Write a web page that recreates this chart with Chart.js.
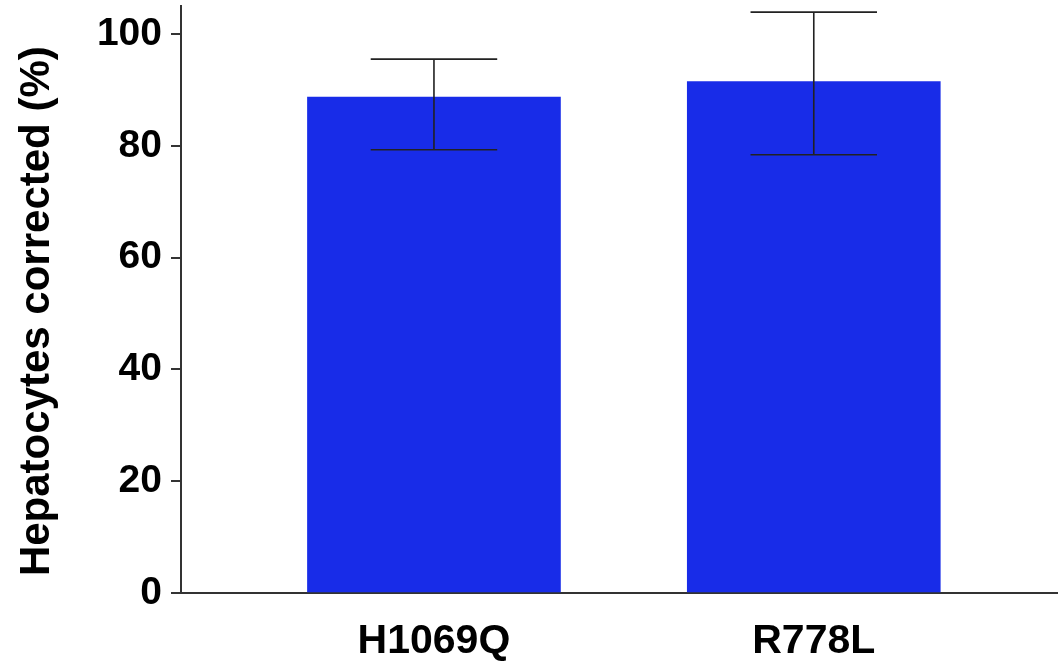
<!DOCTYPE html>
<html>
<head>
<meta charset="utf-8">
<script src="https://cdn.jsdelivr.net/npm/chart.js@4/dist/chart.umd.min.js"></script>
<style>
  body { margin: 0; background: #fff; }
  #wrap { width: 1058px; height: 664px; }
</style>
</head>
<body>
<div id="wrap"><canvas id="myChart" width="1058" height="664"></canvas></div>
<script>
// values
let groupNames = ["H1069Q", "R778L"];
let meanValues = [88.7, 91.5];
let errLow = [79.3, 78.4];
let errHigh = [95.5, 103.9];
let yTicks = [0, 20, 40, 60, 80, 100];

let barColor = "#182ce8";
let inkColor = "#222";

// bars sit on a linear x axis at 1, 2, ...
let barPoints = [];
for (let i = 0; i < groupNames.length; i++) {
    barPoints.push({ x: i + 1, y: meanValues[i] });
}

// error bars drawn on top of each bar, from the y scale
const errorBars = {
    id: "errorBars",
    afterDatasetsDraw(chart) {
        let ctx = chart.ctx;
        let yScale = chart.scales.y;
        let bars = chart.getDatasetMeta(0).data;
        ctx.save();
        ctx.strokeStyle = inkColor;
        ctx.lineWidth = 1.6;
        bars.forEach((bar, i) => {
            let x = bar.x;
            let half = bar.width / 4;
            let top = yScale.getPixelForValue(errHigh[i]);
            let bottom = yScale.getPixelForValue(errLow[i]);
            ctx.beginPath();
            ctx.moveTo(x, top);
            ctx.lineTo(x, bottom);
            ctx.moveTo(x - half, top);
            ctx.lineTo(x + half, top);
            ctx.moveTo(x - half, bottom);
            ctx.lineTo(x + half, bottom);
            ctx.stroke();
        });
        ctx.restore();
    }
};

Chart.defaults.font.family = "'Liberation Sans', Arial, sans-serif";
Chart.defaults.color = "#000";

new Chart("myChart", {
    type: "bar",
    data: {
        datasets: [{
            data: barPoints,
            backgroundColor: barColor,
            borderWidth: 0,
            barThickness: 253
        }]
    },
    options: {
        responsive: false,
        animation: false,
        layout: { padding: { top: 6, right: 0, left: 0, bottom: 0 } },
        plugins: {
            legend: { display: false },
            tooltip: { enabled: false }
        },
        scales: {
            x: {
                type: "linear",
                offset: false,
                min: 0.334,
                max: 2.643,
                grid: { display: false, drawTicks: false, offset: false },
                border: { display: true, color: "#333", width: 2 },
                afterBuildTicks: (scale) => {
                    scale.ticks = groupNames.map((n, i) => ({ value: i + 1 }));
                },
                afterFit: (scale) => {
                    scale.height = 71;
                    scale.paddingLeft = 0;
                    scale.paddingRight = 0;
                },
                ticks: {
                    autoSkip: false,
                    maxRotation: 0,
                    padding: 24,
                    font: { size: 41, weight: "bold" },
                    callback: (v) => groupNames[v - 1] || ""
                }
            },
            y: {
                min: 0,
                max: 105,
                grid: { drawOnChartArea: false, tickLength: 10, color: "#333", lineWidth: 2 },
                border: { display: true, color: "#333", width: 2 },
                afterBuildTicks: (scale) => {
                    scale.ticks = yTicks.map(v => ({ value: v }));
                },
                afterFit: (scale) => {
                    scale.width = 181;
                    scale.paddingTop = 0;
                    scale.paddingBottom = 0;
                },
                ticks: {
                    padding: 9,
                    font: { size: 39, weight: "bold" }
                },
                title: {
                    display: true,
                    text: "Hepatocytes corrected (%)  ",
                    font: { size: 42, weight: "bold" },
                    padding: { top: 12, bottom: 0 }
                }
            }
        }
    },
    plugins: [errorBars]
});
</script>
</body>
</html>
